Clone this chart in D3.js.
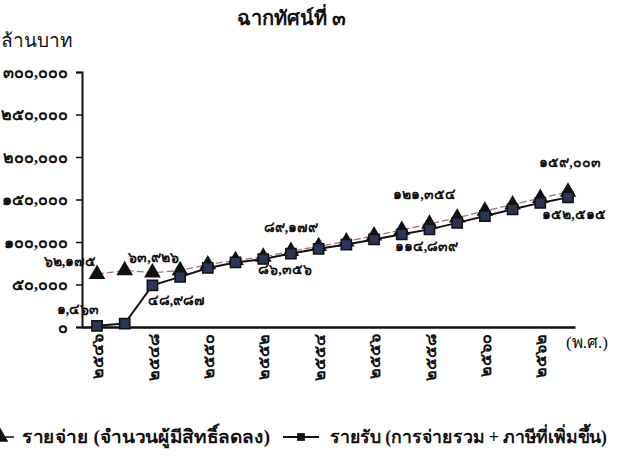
<!DOCTYPE html>
<html>
<head>
<meta charset="utf-8">
<script src="https://cdn.jsdelivr.net/npm/d3@7"></script>
<style>
  html, body { margin: 0; padding: 0; background: #fff; }
  svg { display: block; }
  text { font-family: "Liberation Serif", "DejaVu Serif", serif; fill: #111; }
</style>
</head>
<body>
<svg id="chart" width="627" height="466"></svg>
<script>
// Years (Buddhist Era) and the two projected series, million baht
const years = [2546, 2547, 2548, 2549, 2550, 2551, 2552, 2553, 2554,
               2555, 2556, 2557, 2558, 2559, 2560, 2561, 2562, 2563];
const expenditure = [62175, 66500, 63926, 66500, 73500, 78500, 82500, 89179, 95000,
                     100500, 107500, 114000, 121354, 128500, 136500, 144000, 151500, 159003];
const revenue = [1463, 4000, 48987, 59000, 69500, 76000, 80000, 86356, 92000,
                 97000, 103000, 109000, 114839, 122500, 130500, 138500, 146000, 152515];

// Years whose values are written next to the markers
const labelledYears = [2546, 2548, 2553, 2558, 2563];

const yTicks = [0, 50000, 100000, 150000, 200000, 250000, 300000];
const xTickYears = [2546, 2548, 2550, 2552, 2554, 2556, 2558, 2560, 2562];

const titleText = "ฉากทัศน์ที่ ๓";
const yUnitText = "ล้านบาท";
const xUnitText = "(พ.ศ.)";
const seriesNames = ["รายจ่าย (จำนวนผู้มีสิทธิ์ลดลง)", "รายรับ (การจ่ายรวม + ภาษีที่เพิ่มขึ้น)"];

// Arabic -> Thai digits
const thaiDigits = "๐๑๒๓๔๕๖๗๘๙";
const toThai = s => String(s).replace(/[0-9]/g, d => thaiDigits[+d]);
const fmtNum = v => toThai(d3.format(",")(v));

const svg = d3.select("#chart");

const x = d3.scaleLinear().domain([2546, 2563]).range([97, 568]);
const y = d3.scaleLinear().domain([0, 300000]).range([327, 72]);
const axisLeftX = 82, axisRightX = 575;

// Title and unit labels
svg.append("text").attr("x", 291).attr("y", 25).attr("text-anchor", "middle")
  .style("font-size", "20px").style("font-weight", "bold").text(titleText);
svg.append("text").attr("x", 1).attr("y", 47)
  .style("font-size", "19px").text(yUnitText);

// Y axis
const yAxis = svg.append("g").attr("transform", `translate(${axisLeftX},0)`)
  .call(d3.axisLeft(y).tickValues(yTicks).tickSize(6).tickSizeOuter(6).tickPadding(8).tickFormat(fmtNum));
yAxis.select(".domain").attr("stroke", "#111").attr("stroke-width", 2);
yAxis.selectAll(".tick line").attr("stroke", "#111").attr("stroke-width", 1.5);
yAxis.selectAll(".tick text").attr("fill", "#111")
  .style("font-size", "16px").style("font-weight", "bold").style("font-family", "'Liberation Serif', serif");

// X axis (domain extends from the y axis to the right end)
const xAxisScale = x.copy().domain([x.invert(axisLeftX), x.invert(axisRightX)]).range([axisLeftX, axisRightX]);
const xAxis = svg.append("g").attr("transform", `translate(0,${y(0)})`)
  .call(d3.axisBottom(xAxisScale).tickValues(xTickYears).tickSize(0).tickSizeOuter(0).tickFormat(toThai));
xAxis.select(".domain").attr("stroke", "#111").attr("stroke-width", 2.5);
xAxis.selectAll(".tick text")
  .attr("transform", "rotate(-90)")
  .attr("x", -7).attr("y", 0).attr("dy", "0.35em")
  .attr("text-anchor", "end").attr("fill", "#111")
  .style("font-size", "16px").style("font-weight", "bold").style("font-family", "'Liberation Serif', serif");

svg.append("text").attr("x", 566).attr("y", 348)
  .style("font-size", "17px").text(xUnitText);

// Lines
const lineGen = vals => d3.line().x((d, i) => x(years[i])).y(d => y(d))(vals);

svg.append("path").attr("d", lineGen(expenditure))
  .attr("fill", "none").attr("stroke", "#b0707a").attr("stroke-width", 1.3)
  .attr("stroke-dasharray", "7,3");
svg.append("path").attr("d", lineGen(revenue))
  .attr("fill", "none").attr("stroke", "#111").attr("stroke-width", 2);

// Markers
const triSym = d3.symbol().type(d3.symbolTriangle).size(120);
const sqSym = d3.symbol().type(d3.symbolSquare).size(105);

svg.append("g").selectAll("path").data(expenditure).join("path")
  .attr("transform", (d, i) => `translate(${x(years[i])},${y(d)})`)
  .attr("d", triSym).attr("fill", "#111");

svg.append("g").selectAll("path").data(revenue).join("path")
  .attr("transform", (d, i) => `translate(${x(years[i])},${y(d)})`)
  .attr("d", sqSym).attr("fill", "#2c3458").attr("stroke", "#111").attr("stroke-width", 1.5);

// Value labels: offsets [dx, dy] from each marker, expenditure above, revenue below
const expOffsets = { 2546: [-27, -8], 2548: [1, -11], 2553: [0, -19], 2558: [-5, -25], 2563: [2, -25] };
const revOffsets = { 2546: [-19, -12], 2548: [24, 20], 2553: [-6, 20], 2558: [-3, 22], 2563: [6, 22] };
const lblStyle = sel => sel.style("font-size", "14px").style("font-weight", "bold").attr("text-anchor", "middle");
labelledYears.forEach(yr => {
  const i = years.indexOf(yr);
  svg.append("text").attr("x", x(yr) + expOffsets[yr][0]).attr("y", y(expenditure[i]) + expOffsets[yr][1])
    .call(lblStyle).text(fmtNum(expenditure[i]));
  svg.append("text").attr("x", x(yr) + revOffsets[yr][0]).attr("y", y(revenue[i]) + revOffsets[yr][1])
    .call(lblStyle).text(fmtNum(revenue[i]));
});

// Legend
const legY = 437;
const leg = svg.append("g");
leg.append("line").attr("x1", -20).attr("x2", 14).attr("y1", legY).attr("y2", legY)
  .attr("stroke", "#111").attr("stroke-width", 1.5);
leg.append("path").attr("transform", `translate(0,${legY})`).attr("d", triSym).attr("fill", "#111");
leg.append("text").attr("x", 22).attr("y", legY + 6)
  .attr("textLength", 248).attr("lengthAdjust", "spacingAndGlyphs")
  .style("font-size", "18px").style("font-weight", "bold").text(seriesNames[0]);
leg.append("line").attr("x1", 283).attr("x2", 319).attr("y1", legY).attr("y2", legY)
  .attr("stroke", "#111").attr("stroke-width", 2);
leg.append("path").attr("transform", `translate(301,${legY})`).attr("d", d3.symbol().type(d3.symbolSquare).size(60))
  .attr("fill", "#111");
leg.append("text").attr("x", 330).attr("y", legY + 6)
  .attr("textLength", 277).attr("lengthAdjust", "spacingAndGlyphs")
  .style("font-size", "18px").style("font-weight", "bold").text(seriesNames[1]);
</script>
</body>
</html>
